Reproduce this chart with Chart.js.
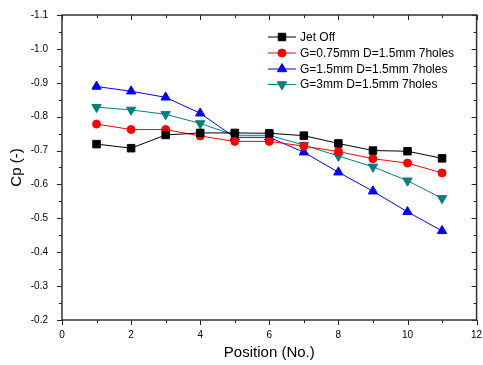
<!DOCTYPE html>
<html><head><meta charset="utf-8">
<script src="https://cdn.jsdelivr.net/npm/chart.js@4.4.0/dist/chart.umd.min.js"></script>
<style>html,body{margin:0;padding:0;background:#fff}#wrap{width:483px;height:365px}</style>
</head><body><div id="wrap"><canvas id="c" width="483" height="365"></canvas></div>
<script>
const positions = [1, 2, 3, 4, 5, 6, 7, 8, 9, 10, 11];
const jetOff = [-0.719, -0.707, -0.746, -0.752, -0.752, -0.751, -0.744, -0.721, -0.700, -0.698, -0.677];
const g075   = [-0.778, -0.762, -0.762, -0.743, -0.727, -0.727, -0.713, -0.697, -0.676, -0.663, -0.634];
const g15    = [-0.889, -0.875, -0.857, -0.810, -0.739, -0.739, -0.695, -0.636, -0.580, -0.519, -0.463];
const g3     = [-0.828, -0.820, -0.807, -0.780, -0.745, -0.745, -0.716, -0.684, -0.652, -0.611, -0.559];
const seriesLabels = ['Jet Off', 'G=0.75mm D=1.5mm 7holes', 'G=1.5mm D=1.5mm 7holes', 'G=3mm D=1.5mm 7holes'];
const xTitle = 'Position (No.)';
const yTitle = 'Cp (-)';

const FONT = '"Liberation Sans", Arial, sans-serif';
const pts = arr => positions.map((p, i) => ({x: p, y: arr[i]}));

function ds(label, data, color, style, radius, rotation) {
  return {label, data: pts(data), borderColor: color, backgroundColor: color,
    pointStyle: style, pointRadius: radius, pointHoverRadius: radius, pointRotation: rotation || 0,
    pointBorderWidth: 1, borderWidth: 1, tension: 0, clip: false};
}

const framePlugin = {
  id: 'frame',
  afterDraw(chart) {
    const {ctx, chartArea: a, scales: {x, y}} = chart;
    ctx.save();
    ctx.strokeStyle = '#222';
    ctx.lineWidth = 1;
    const ln = (x1, y1, x2, y2) => { ctx.beginPath(); ctx.moveTo(x1, y1); ctx.lineTo(x2, y2); ctx.stroke(); };
    for (let v = 0; v <= 12; v++) {
      const px = Math.round(x.getPixelForValue(v)) + 0.5;
      const L = v % 2 === 0 ? 5 : 3;
      ln(px, a.bottom, px, a.bottom + L);
      ln(px, a.top, px, a.top + L);
    }
    for (let i = 0; i <= 18; i++) {
      const v = -1.1 + i * 0.05;
      const py = Math.round(y.getPixelForValue(v)) + 0.5;
      const L = i % 2 === 0 ? 5 : 3;
      ln(a.left - L, py, a.left, py);
      ln(a.right - L, py, a.right, py);
    }
    ctx.lineWidth = 1.5;
    ctx.strokeStyle = '#333';
    ctx.strokeRect(a.left, a.top, a.right - a.left, a.bottom - a.top);
    ctx.restore();
  }
};

const legendPlugin = {
  id: 'customLegend',
  afterDraw(chart) {
    const ctx = chart.ctx;
    ctx.save();
    ctx.font = '12px ' + FONT;
    ctx.textBaseline = 'middle';
    const rows = [37, 53, 69, 84.5];
    chart.data.datasets.forEach((d, i) => {
      const yy = rows[i];
      ctx.strokeStyle = d.borderColor;
      ctx.fillStyle = d.borderColor;
      ctx.lineWidth = 1;
      ctx.beginPath(); ctx.moveTo(268, yy); ctx.lineTo(296, yy); ctx.stroke();
      Chart.helpers.drawPoint(ctx, {pointStyle: d.pointStyle, rotation: d.pointRotation, radius: d.pointRadius, borderWidth: 1}, 282, yy);
      ctx.fillStyle = '#000';
      ctx.fillText(d.label, 300, yy + 0.5);
    });
    ctx.restore();
  }
};

new Chart(document.getElementById('c'), {
  type: 'line',
  data: {
    datasets: [
      ds(seriesLabels[0], jetOff, '#000000', 'rect', 5.3),
      ds(seriesLabels[1], g075, '#ff0000', 'circle', 4),
      ds(seriesLabels[2], g15, '#0000ff', 'triangle', 5.4),
      ds(seriesLabels[3], g3, '#008080', 'triangle', 5.4, 180)
    ]
  },
  options: {
    responsive: false,
    devicePixelRatio: 1,
    animation: false,
    layout: {padding: {top: 15, right: 6, left: 0, bottom: 0}},
    plugins: {legend: {display: false}, tooltip: {enabled: false}},
    scales: {
      x: {
        type: 'linear', min: 0, max: 12,
        grid: {display: false, drawTicks: false},
        border: {display: false},
        ticks: {stepSize: 2, padding: 9, color: '#000', font: {family: FONT, size: 10}, maxRotation: 0},
        title: {display: true, text: xTitle, color: '#000', font: {family: FONT, size: 15}, padding: {top: 0, bottom: 3}},
        afterFit(s) { s.height = 45; s.paddingLeft = 0; s.paddingRight = 0; }
      },
      y: {
        type: 'linear', min: -1.1, max: -0.2, reverse: true,
        grid: {display: false, drawTicks: false},
        border: {display: false},
        ticks: {stepSize: 0.1, padding: 14, color: '#000', font: {family: FONT, size: 10},
          callback: v => v.toFixed(1)},
        title: {display: true, text: yTitle, color: '#000', font: {family: FONT, size: 15}, padding: {top: 8, bottom: 0}},
        afterFit(s) { s.width = 62; s.paddingTop = 0; s.paddingBottom = 0; }
      }
    }
  },
  plugins: [framePlugin, legendPlugin]
});
</script></body></html>
